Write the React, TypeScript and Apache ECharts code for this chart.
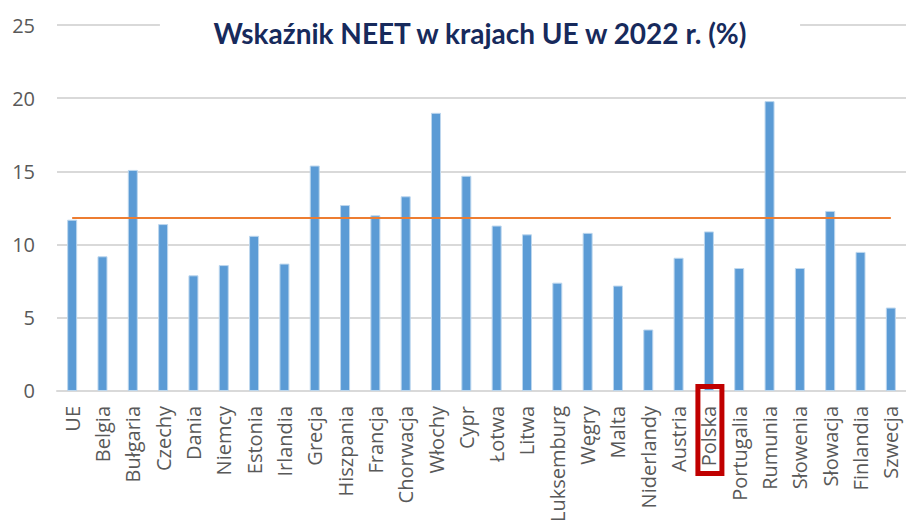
import React, { useEffect, useRef } from "react";
import * as echarts from "echarts";

const categories = [
  "UE", "Belgia", "Bułgaria", "Czechy", "Dania", "Niemcy", "Estonia", "Irlandia",
  "Grecja", "Hiszpania", "Francja", "Chorwacja", "Włochy", "Cypr", "Łotwa", "Litwa",
  "Luksemburg", "Węgry", "Malta", "Niderlandy", "Austria", "Polska", "Portugalia",
  "Rumunia", "Słowenia", "Słowacja", "Finlandia", "Szwecja",
];
const neetValues = [
  11.7, 9.2, 15.1, 11.4, 7.9, 8.6, 10.6, 8.7,
  15.4, 12.7, 12.0, 13.3, 19.0, 14.7, 11.3, 10.7,
  7.4, 10.8, 7.2, 4.2, 9.1, 10.9, 8.4,
  19.8, 8.4, 12.3, 9.5, 5.7,
];
const referenceLevel = 11.8;
const highlighted = "Polska";
const yTicks = { min: 0, max: 25, interval: 5 };
const title = "Wskaźnik NEET w krajach UE w 2022 r. (%)";

export default function App() {
  const ref = useRef<HTMLDivElement>(null);
  useEffect(() => {
    if (!ref.current) return;
    const chart = echarts.init(ref.current, null, { renderer: "svg" });
    chart.setOption({
      animation: false,
      backgroundColor: "#ffffff",
      title: {
        text: title,
        left: 428,
        textAlign: "center",
        top: 9,
        padding: [6, 52, 6, 52],
        backgroundColor: "#ffffff",
        textStyle: {
          fontFamily: "Lato",
          fontWeight: "bold",
          fontSize: 28,
          lineHeight: 36,
          color: "#172A5C",
        },
        z: 10,
      },
      grid: { left: 57, right: -1, top: 25, bottom: 133, containLabel: false },
      xAxis: {
        type: "category",
        data: categories,
        axisLine: { show: true, lineStyle: { color: "#D9D9D9", width: 2 } },
        axisTick: { show: false },
        axisLabel: {
          interval: 0,
          rotate: 90,
          margin: 15,
          color: "#595959",
          fontFamily: "Open Sans",
          fontSize: 20,
        },
      },
      yAxis: {
        type: "value",
        min: yTicks.min,
        max: yTicks.max,
        interval: yTicks.interval,
        axisLine: { show: false },
        axisTick: { show: false },
        axisLabel: {
          margin: 22,
          color: "#595959",
          fontFamily: "Open Sans",
          fontSize: 20,
        },
        splitLine: { lineStyle: { color: "#D9D9D9", width: 2 } },
      },
      series: [
        {
          type: "bar",
          data: neetValues,
          barWidth: 10,
          itemStyle: { color: "#5B9BD5", borderColor: "#BDD7EE", borderWidth: 1 },
          markLine: {
            symbol: "none",
            silent: true,
            label: { show: false },
            lineStyle: { color: "#ED7D31", width: 2, type: "solid" },
            data: [
              [
                { coord: [categories[0], referenceLevel] },
                { coord: [categories[categories.length - 1], referenceLevel] },
              ],
            ],
          },
        },
      ],
    });
    const px = chart.convertToPixel({ xAxisIndex: 0 }, highlighted) as number;
    const y0 = chart.convertToPixel({ yAxisIndex: 0 }, 0) as number;
    chart.setOption({
      graphic: [
        {
          type: "rect",
          shape: { x: px - 11, y: y0 - 4.5, width: 24, height: 87 },
          style: { fill: "none", stroke: "#C00000", lineWidth: 5 },
          z: 20,
        },
      ],
    });
    return () => chart.dispose();
  }, []);
  return (
    <div
      ref={ref}
      style={{ position: "absolute", left: 0, top: 0, width: 906, height: 525 }}
    />
  );
}
